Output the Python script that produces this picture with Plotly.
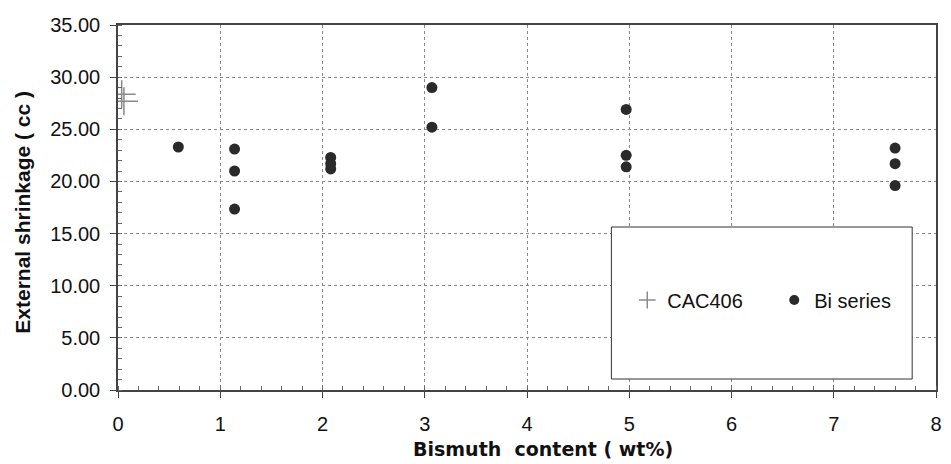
import plotly.graph_objects as go

# Data
cac_x = [0.036, 0.058]
cac_y = [28.35, 27.7]
bi_x = [0.59, 1.14, 1.14, 1.14, 2.08, 2.08, 2.08, 3.07, 3.07, 4.97, 4.97, 4.97, 7.6, 7.6, 7.6]
bi_y = [23.3, 23.1, 21.0, 17.35, 22.3, 21.7, 21.2, 29.0, 25.2, 26.9, 22.5, 21.4, 23.2, 21.7, 19.6]

x_title = "Bismuth  content ( wt%)"
y_title = "External shrinkage ( cc )"

FONT = "Liberation Sans, Arial, sans-serif"
WIDE_FONT = "DejaVu Sans, Verdana, sans-serif"
CROSS_COLOR = "#8a8a8a"
DOT_COLOR = "#2a2a2a"

fig = go.Figure()
fig.add_trace(go.Scatter(
    x=cac_x, y=cac_y, mode="markers", name="CAC406", showlegend=False,
    marker=dict(symbol="cross-thin", size=20, line=dict(color=CROSS_COLOR, width=1.5), color=CROSS_COLOR),
))
fig.add_trace(go.Scatter(
    x=bi_x, y=bi_y, mode="markers", name="Bi series", showlegend=False,
    marker=dict(symbol="circle", size=11, color=DOT_COLOR),
))
# legend-only entries (smaller symbols, as in the reference legend)
fig.add_trace(go.Scatter(
    x=[None], y=[None], mode="markers", name="CAC406",
    marker=dict(symbol="cross-thin", size=12, line=dict(color=CROSS_COLOR, width=1.5), color=CROSS_COLOR),
))
fig.add_trace(go.Scatter(
    x=[None], y=[None], mode="markers", name="Bi series",
    marker=dict(symbol="circle", size=10, color=DOT_COLOR),
))

# legend box
fig.add_shape(type="rect", xref="paper", yref="paper",
              x0=(615 - 118) / 824, x1=(918 - 118) / 824,
              y0=(390 - 379) / 365, y1=(390 - 227) / 365,
              line=dict(color="#333", width=1), fillcolor="white", layer="above")

fig.add_annotation(text="<b>" + x_title + "</b>", xref="paper", yref="paper",
                   x=(546 - 118) / 824, y=(390 - 449) / 365, xanchor="center", yanchor="middle",
                   showarrow=False, font=dict(family=WIDE_FONT, size=19, color="#111"))
fig.add_annotation(text="<b>" + y_title + "</b>", xref="paper", yref="paper",
                   x=(21.5 - 118) / 824, y=(390 - 212.5) / 365, xanchor="center", yanchor="middle",
                   textangle=-90, showarrow=False, font=dict(family=FONT, size=21, color="#111"))

fig.update_layout(
    width=951, height=464,
    margin=dict(l=118, r=9, t=25, b=74),
    paper_bgcolor="white", plot_bgcolor="white",
    font=dict(family=FONT, size=18, color="#111"),
    showlegend=True,
    legend=dict(orientation="h", x=(631 - 118) / 824, xanchor="left",
                y=(390 - 300) / 365, yanchor="middle",
                bgcolor="rgba(0,0,0,0)", borderwidth=0,
                font=dict(family=FONT, size=20, color="#111"),
                entrywidth=102, itemwidth=30),
    xaxis=dict(
        range=[0, 8], dtick=1, tick0=0,
        showline=True, linecolor="#444", linewidth=1.5, mirror=True,
        ticks="outside", ticklen=6, tickcolor="#444", ticklabelstandoff=9,
        showgrid=True, gridcolor="#888", griddash="3px,3px", gridwidth=1,
        minor=dict(dtick=0.2, ticks="inside", ticklen=4, tickcolor="#666", showgrid=False),
        zeroline=False,
        tickfont=dict(family=FONT, size=20, color="#111"),
    ),
    yaxis=dict(
        range=[0, 35], dtick=5, tick0=0, tickformat=".2f",
        showline=True, linecolor="#444", linewidth=1.5, mirror=True,
        ticks="outside", ticklen=6, tickcolor="#444", ticklabelstandoff=6,
        showgrid=True, gridcolor="#888", griddash="3px,3px", gridwidth=1,
        minor=dict(dtick=1, ticks="inside", ticklen=4, tickcolor="#666", showgrid=False),
        zeroline=False,
        tickfont=dict(family=FONT, size=20, color="#111"),
    ),
)

fig.write_html("out.html")
